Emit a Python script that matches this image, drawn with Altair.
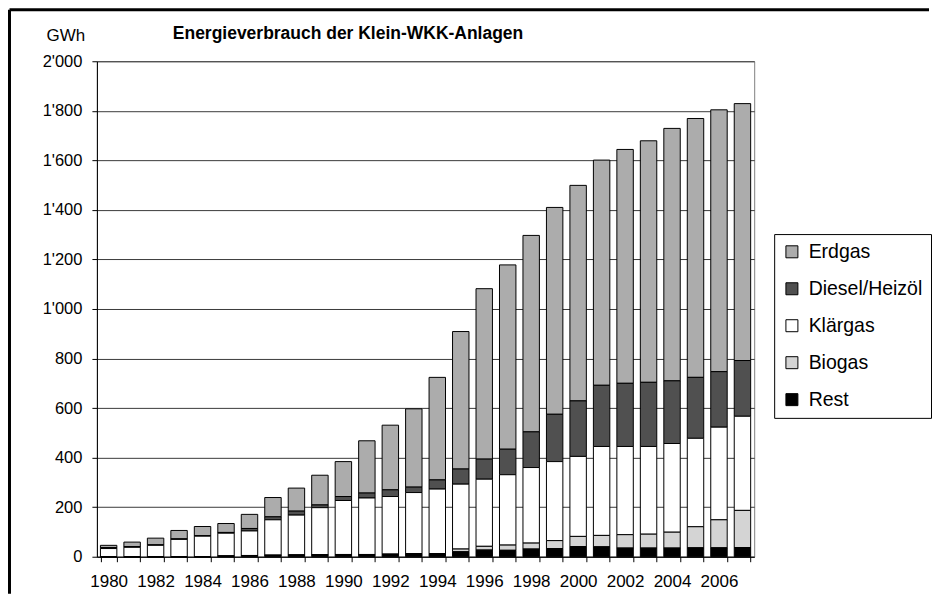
import altair as alt
import pandas as pd

years = list(range(1980, 2008))
rest = [0, 0, 0, 0, 0, 3, 5, 6, 7, 8, 9, 9, 10, 12, 12, 20, 27, 26, 31, 33, 41, 40, 35, 35, 35, 36, 36, 37]
biogas = [0, 0, 0, 0, 0, 0, 0, 0, 0, 0, 0, 0, 0, 0, 0, 11, 15, 21, 24, 32, 41, 46, 54, 56, 64, 85, 113, 150]
klaergas = [33, 38, 46, 70, 83, 92, 99, 143, 161, 190, 218, 228, 233, 247, 261, 262, 271, 284, 305, 319, 323, 359, 356, 354, 358, 357, 374, 380]
diesel = [4, 3, 2, 2, 2, 3, 10, 12, 16, 11, 16, 20, 27, 22, 37, 61, 81, 103, 144, 191, 224, 247, 255, 259, 253, 246, 224, 225]
erdgas = [9, 18, 27, 34, 37, 36, 57, 78, 93, 120, 141, 211, 261, 316, 414, 555, 688, 744, 793, 835, 870, 909, 944, 975, 1019, 1045, 1057, 1037]

series_names = ["Erdgas", "Diesel/Heizöl", "Klärgas", "Biogas", "Rest"]
series_values = [erdgas, diesel, klaergas, biogas, rest]
stack_rank = {"Rest": 0, "Biogas": 1, "Klärgas": 2, "Diesel/Heizöl": 3, "Erdgas": 4}
fills = ["#acacac", "#505050", "#ffffff", "#d4d4d4", "#000000"]

title_text = "Energieverbrauch der Klein-WKK-Anlagen"
y_unit = "GWh"

rows = []
for name, vals in zip(series_names, series_values):
    for yr, v in zip(years, vals):
        rows.append({"Jahr": yr, "Quelle": name, "GWh": v, "rank": stack_rank[name]})
df = pd.DataFrame(rows)

FONT = "Liberation Sans"

bars = alt.Chart(df).mark_bar(stroke="black", strokeWidth=1).encode(
    x=alt.X(
        "Jahr:O",
        scale=alt.Scale(paddingInner=0.3, paddingOuter=0.15),
        axis=alt.Axis(
            title=None,
            labelAngle=0,
            labelExpr="datum.value % 2 == 0 ? datum.label : ''",
            labelOverlap=False,
            labelFontSize=17,
            labelFont=FONT,
            labelColor="black",
            labelPadding=12,
            tickBand="extent",
            tickSize=5,
            tickColor="black",
            domainColor="black",
            grid=False,
        ),
    ),
    y=alt.Y(
        "GWh:Q",
        stack="zero",
        scale=alt.Scale(domain=[0, 2000], nice=False),
        axis=alt.Axis(
            title=y_unit,
            titleAngle=0,
            titleX=-31.5,
            titleY=-21,
            titleAlign="center",
            titleBaseline="alphabetic",
            titleFontSize=17,
            titleFontWeight="normal",
            titleFont=FONT,
            titleColor="black",
            values=list(range(0, 2001, 200)),
            labelExpr="replace(format(datum.value, ','), ',', \"'\")",
            labelFontSize=16.5,
            labelFont=FONT,
            labelColor="black",
            labelPadding=10,
            tickSize=5,
            tickColor="black",
            domainColor="black",
            grid=True,
            gridColor="#3a3a3a",
            gridWidth=1,
        ),
    ),
    fill=alt.Fill(
        "Quelle:N",
        scale=alt.Scale(domain=series_names, range=fills),
        legend=alt.Legend(
            title=None,
            orient="none",
            legendX=678,
            legendY=173,
            strokeColor="black",
            padding=8,
            symbolType="square",
            symbolSize=144,
            symbolStrokeColor="black",
            symbolStrokeWidth=1,
            symbolOpacity=1,
            labelFontSize=19.5,
            labelFont=FONT,
            labelColor="black",
            labelOffset=7,
            rowPadding=16,
        ),
    ),
    order=alt.Order("rank:Q", sort="ascending"),
)

frame_left = alt.Chart(alt.Data(values=[{"f": 1}])).mark_rule(
    stroke="black", strokeWidth=3
).encode(
    x=alt.value(-87.5), y=alt.value(-51.5), y2=alt.value(533)
)

frame_top = alt.Chart(alt.Data(values=[{"f": 1}])).mark_rule(
    stroke="black", strokeWidth=3
).encode(
    x=alt.value(-87.5), x2=alt.value(833), y=alt.value(-51.5)
)

title = alt.Chart(alt.Data(values=[{"t": title_text}])).mark_text(
    font=FONT, fontSize=17.5, fontWeight="bold", align="left", baseline="alphabetic", color="black"
).encode(
    x=alt.value(76), y=alt.value(-22), text="t:N"
)

chart = alt.layer(frame_left, frame_top, bars, title).properties(
    width=658, height=496
).configure(
    padding=0, background="white"
).configure_view(
    stroke="#808080", strokeWidth=1
)

chart.save("out.html", embed_options={"renderer": "svg", "actions": False})
